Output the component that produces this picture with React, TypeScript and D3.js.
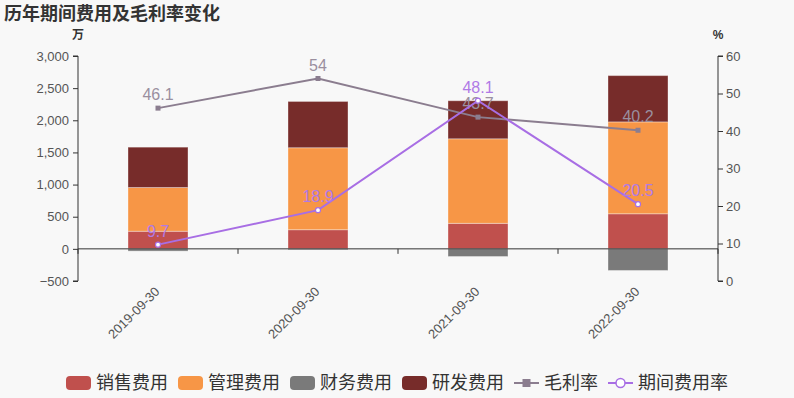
import React, { useEffect, useRef } from 'react';
import * as d3 from 'd3';

const categories = ['2019-09-30', '2020-09-30', '2021-09-30', '2022-09-30'];
const salesCost = [274, 298, 397, 546];
const adminCost = [680, 1275, 1315, 1429];
const financeCost = [-35, -15, -119, -336];
const rdCost = [628, 720, 592, 720];
const grossMargin = [46.1, 54, 43.7, 40.2];
const expenseRate = [9.7, 18.9, 48.1, 20.5];
const leftTicks = [-500, 0, 500, 1000, 1500, 2000, 2500, 3000];
const rightTicks = [0, 10, 20, 30, 40, 50, 60];

const barSeries = [
  { key: 'sales', name: '销售费用', color: '#c0504d', values: salesCost },
  { key: 'admin', name: '管理费用', color: '#f79646', values: adminCost },
  { key: 'finance', name: '财务费用', color: '#7a7a7a', values: financeCost },
  { key: 'rd', name: '研发费用', color: '#772c2a', values: rdCost },
];
const lineSeries = [
  { name: '毛利率', color: '#8b7d8f', labelColor: '#9a8f9f', values: grossMargin, symbol: 'rect' },
  { name: '期间费用率', color: '#a86ee4', labelColor: '#b07ae6', values: expenseRate, symbol: 'circle' },
];

const W = 794;
const H = 398;
const FONT = '"Liberation Sans", Arial, "Noto Sans CJK SC", sans-serif';
const CJK = '"Noto Sans CJK SC", "Liberation Sans", sans-serif';

const App = () => {
  const ref = useRef<SVGSVGElement>(null);

  useEffect(() => {
    const svg = d3.select(ref.current);
    svg.selectAll('*').remove();

    const left = 78, right = 718, top = 56, bottom = 281;

    const x = d3.scaleBand().domain(categories).range([left, right]);
    const y = d3.scaleLinear().domain([-500, 3000]).range([bottom, top]);
    const y2 = d3.scaleLinear().domain([0, 60]).range([bottom, top]);

    svg.append('rect').attr('width', W).attr('height', H).attr('fill', '#f8f8f8');

    // 标题
    svg.append('text')
      .attr('x', 4).attr('y', 20)
      .attr('font-family', CJK).attr('font-size', 18).attr('font-weight', 'bold')
      .attr('fill', '#333')
      .text('历年期间费用及毛利率变化');

    svg.append('text').attr('x', left).attr('y', 39).attr('text-anchor', 'middle')
      .attr('font-family', CJK).attr('font-size', 12).attr('font-weight', 'bold').attr('fill', '#333').text('万');
    svg.append('text').attr('x', right).attr('y', 39).attr('text-anchor', 'middle')
      .attr('font-family', FONT).attr('font-size', 12).attr('font-weight', 'bold').attr('fill', '#333').text('%');

    // 柱子
    const rows = categories.map((c, i) => {
      const r: any = { cat: c };
      barSeries.forEach(s => { r[s.key] = s.values[i]; });
      return r;
    });
    const stack = d3.stack<any>().keys(barSeries.map(s => s.key)).offset(d3.stackOffsetDiverging);
    const stacked = stack(rows);
    const barW = 60;

    stacked.forEach((layer, li) => {
      svg.append('g').selectAll('rect')
        .data(layer)
        .enter().append('rect')
        .attr('x', d => (x(d.data.cat) as number) + x.bandwidth() / 2 - barW / 2)
        .attr('width', barW)
        .attr('y', d => y(Math.max(d[0], d[1])))
        .attr('height', d => Math.abs(y(d[0]) - y(d[1])))
        .attr('fill', barSeries[li].color)
        .attr('stroke', 'rgba(255,255,255,0.35)')
        .attr('stroke-width', 1);
    });

    // 坐标轴
    const axisColor = '#333';
    const gl = svg.append('g').attr('transform', `translate(${left},0)`)
      .call(d3.axisLeft(y).tickValues(leftTicks).tickSize(5).tickFormat((d: any) => d3.format(',')(d).replace('-', '−')));
    gl.select('.domain').attr('stroke', axisColor).attr('d', `M-5,${top}H0V${bottom}H-5`);
    gl.selectAll('line').attr('stroke', axisColor);
    gl.selectAll('text').attr('font-family', FONT).attr('font-size', 13).attr('fill', '#555').attr('x', -9);

    const gr = svg.append('g').attr('transform', `translate(${right},0)`)
      .call(d3.axisRight(y2).tickValues(rightTicks).tickSize(5));
    gr.select('.domain').attr('stroke', axisColor).attr('d', `M5,${top}H0V${bottom}H5`);
    gr.selectAll('line').attr('stroke', axisColor);
    gr.selectAll('text').attr('font-family', FONT).attr('font-size', 13).attr('fill', '#555').attr('x', 8);

    const gx = svg.append('g').attr('transform', `translate(0,${y(0)})`);
    gx.append('line').attr('x1', left).attr('x2', right).attr('stroke', axisColor);
    const bounds = categories.map(c => x(c) as number).concat([right]);
    gx.selectAll('line.tick').data(bounds).enter().append('line')
      .attr('class', 'tick')
      .attr('x1', d => d).attr('x2', d => d).attr('y1', 0).attr('y2', 5)
      .attr('stroke', axisColor);

    svg.append('g').selectAll('text')
      .data(categories)
      .enter().append('text')
      .attr('transform', d => `translate(${(x(d) as number) + x.bandwidth() / 2},${bottom + 9}) rotate(-45)`)
      .attr('text-anchor', 'end')
      .attr('dominant-baseline', 'middle')
      .attr('font-family', FONT).attr('font-size', 13).attr('fill', '#555')
      .text(d => d);

    // 折线
    const cx = (i: number) => (x(categories[i]) as number) + x.bandwidth() / 2;
    lineSeries.forEach(s => {
      const line = d3.line<number>().x((d, i) => cx(i)).y(d => y2(d));
      const g = svg.append('g');
      g.append('path').attr('d', line(s.values) as string)
        .attr('fill', 'none').attr('stroke', s.color).attr('stroke-width', 2);
      if (s.symbol === 'rect') {
        g.selectAll('rect').data(s.values).enter().append('rect')
          .attr('x', (d, i) => cx(i) - 2.5).attr('y', d => y2(d) - 2.5)
          .attr('width', 5).attr('height', 5).attr('fill', s.color);
      } else {
        g.selectAll('circle').data(s.values).enter().append('circle')
          .attr('cx', (d, i) => cx(i)).attr('cy', d => y2(d)).attr('r', 2.5)
          .attr('fill', '#fff').attr('stroke', s.color).attr('stroke-width', 1.2);
      }
      g.selectAll('text').data(s.values).enter().append('text')
        .attr('x', (d, i) => cx(i)).attr('y', d => y2(d) - 8)
        .attr('text-anchor', 'middle')
        .attr('font-family', FONT).attr('font-size', 16).attr('fill', s.labelColor)
        .text(d => String(d));
    });

    // 图例
    const legendY = 383;
    const items = [
      ...barSeries.map(s => ({ name: s.name, color: s.color, type: 'bar' })),
      ...lineSeries.map(s => ({ name: s.name, color: s.color, type: s.symbol })),
    ];
    const lg = svg.append('g');
    let pos = 0;
    items.forEach((it, i) => {
      const g = lg.append('g').attr('transform', `translate(${pos},0)`);
      if (it.type === 'bar') {
        g.append('rect').attr('x', 0).attr('y', legendY - 7).attr('width', 25).attr('height', 14)
          .attr('rx', 4).attr('fill', it.color);
      } else {
        g.append('line').attr('x1', 0).attr('x2', 25).attr('y1', legendY).attr('y2', legendY)
          .attr('stroke', it.color).attr('stroke-width', 2);
        if (it.type === 'rect') {
          g.append('rect').attr('x', 8.5).attr('y', legendY - 4).attr('width', 8).attr('height', 8).attr('fill', it.color);
        } else {
          g.append('circle').attr('cx', 12.5).attr('cy', legendY).attr('r', 4.5)
            .attr('fill', '#fff').attr('stroke', it.color).attr('stroke-width', 1.5);
        }
      }
      const t = g.append('text').attr('x', 30).attr('y', legendY).attr('dy', '0.35em')
        .attr('font-family', CJK).attr('font-size', 18).attr('fill', '#333').text(it.name);
      const tw = (t.node() as SVGTextElement).getComputedTextLength();
      pos += 30 + tw + (i < items.length - 1 ? 10 : 0);
    });
    lg.attr('transform', `translate(${397 - pos / 2},0)`);
  }, []);

  return (
    <div style={{ position: 'absolute', left: 0, top: 0 }}>
      <svg ref={ref} width={W} height={H} style={{ display: 'block' }} />
    </div>
  );
};

export default App;
